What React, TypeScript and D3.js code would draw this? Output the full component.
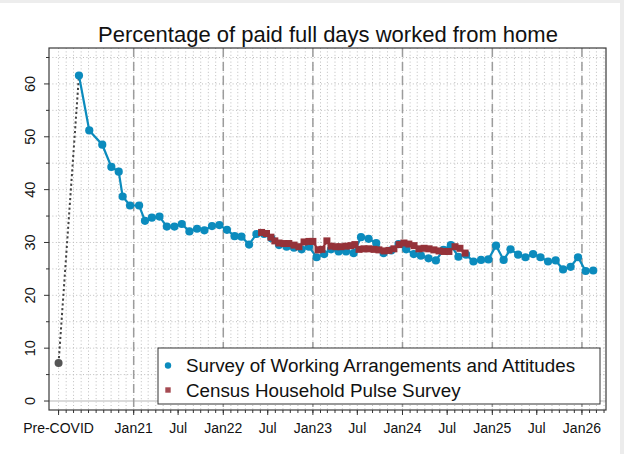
import React from "react";
import * as d3 from "d3";

const W = 624;
const H = 454;
const PLOT = { left: 49, right: 606, top: 48, bottom: 410 };

const title = "Percentage of paid full days worked from home";

const preCovidDate = "2020-03-01";
const preCovidValue = 7.2;

const swaaDates = [
  "2020-05-23", "2020-07-04", "2020-08-26", "2020-10-02", "2020-11-01", "2020-11-17", "2020-12-17", "2021-01-23",
  "2021-02-16", "2021-03-16", "2021-04-16", "2021-05-16", "2021-06-16", "2021-07-16", "2021-08-16", "2021-09-16", "2021-10-16", "2021-11-16", "2021-12-16",
  "2022-01-16", "2022-02-16", "2022-03-16", "2022-04-16", "2022-05-16", "2022-06-16", "2022-07-16", "2022-08-16", "2022-09-16", "2022-10-16", "2022-11-16", "2022-12-16",
  "2023-01-16", "2023-02-16", "2023-03-16", "2023-04-16", "2023-05-16", "2023-06-16", "2023-07-16", "2023-08-16", "2023-09-16", "2023-10-16", "2023-11-16", "2023-12-16",
  "2024-01-16", "2024-02-16", "2024-03-16", "2024-04-16", "2024-05-16", "2024-06-16", "2024-07-16", "2024-08-16", "2024-09-16", "2024-10-16", "2024-11-16", "2024-12-16",
  "2025-01-16", "2025-02-16", "2025-03-16", "2025-04-16", "2025-05-16", "2025-06-16", "2025-07-16", "2025-08-16", "2025-09-16", "2025-10-16", "2025-11-16", "2025-12-16",
  "2026-01-16", "2026-02-16",
];
const swaaValues = [
  61.6, 51.2, 48.5, 44.3, 43.4, 38.7, 37.0, 37.0,
  34.1, 34.7, 34.9, 33.0, 33.0, 33.5, 32.1, 32.6, 32.3, 33.1, 33.3,
  32.4, 31.2, 31.1, 29.6, 31.6, 31.6, 30.8, 29.5, 29.2, 29.0, 28.7, 29.2,
  27.2, 27.8, 28.7, 28.3, 28.3, 28.0, 31.0, 30.7, 29.9, 28.0, 28.5, 29.7,
  28.7, 27.8, 27.5, 27.0, 26.6, 28.6, 29.5, 27.3, 27.7, 26.4, 26.7, 26.8,
  29.4, 26.7, 28.7, 27.7, 27.2, 27.8, 27.2, 26.4, 26.6, 24.9, 25.4, 27.2,
  24.6, 24.7,
];

const pulseDates = [
  "2022-06-06", "2022-06-26", "2022-07-14", "2022-07-30", "2022-08-16", "2022-09-05", "2022-09-25", "2022-10-16", "2022-11-05", "2022-11-26", "2022-12-16",
  "2023-01-01", "2023-01-22", "2023-02-07", "2023-02-27", "2023-03-16", "2023-04-05", "2023-04-25", "2023-05-16", "2023-06-05", "2023-06-21",
  "2023-07-08", "2023-07-28", "2023-08-17", "2023-09-07", "2023-09-27", "2023-10-18", "2023-11-07", "2023-11-27", "2023-12-18",
  "2024-01-07", "2024-01-27", "2024-02-17", "2024-03-08", "2024-03-29", "2024-04-18", "2024-05-08", "2024-05-29", "2024-06-18",
  "2024-07-08", "2024-08-02", "2024-08-22", "2024-09-12",
];
const pulseValues = [
  31.9, 31.7, 31.0, 30.3, 29.9, 29.8, 29.8, 29.5, 29.2, 30.1, 30.2,
  30.2, 28.6, 28.7, 30.3, 29.3, 29.2, 29.2, 29.3, 29.4, 29.6,
  28.7, 28.8, 28.8, 28.7, 28.6, 28.4, 28.5, 28.8, 29.6,
  29.9, 29.7, 29.4, 28.8, 28.9, 28.8, 28.6, 28.4, 28.3,
  28.3, 29.2, 28.9, 28.0,
];

const xTickDates = [
  "2020-03-01", "2021-01-01", "2021-07-01", "2022-01-01", "2022-07-01", "2023-01-01",
  "2023-07-01", "2024-01-01", "2024-07-01", "2025-01-01", "2025-07-01", "2026-01-01",
];
const xTickLabels = ["Pre-COVID", "Jan21", "Jul", "Jan22", "Jul", "Jan23", "Jul", "Jan24", "Jul", "Jan25", "Jul", "Jan26"];
const yearLineDates = ["2021-01-01", "2022-01-01", "2023-01-01", "2024-01-01", "2025-01-01", "2026-01-01"];
const yTickValues = [0, 10, 20, 30, 40, 50, 60];
const yMinorValues = [5, 15, 25, 35, 45, 55, 65];
const legendLabels = ["Survey of Working Arrangements and Attitudes", "Census Household Pulse Survey"];

const BLUE = "#0b8bbd";
const RED = "#953239";
const FONT = "'Liberation Sans', Arial, Helvetica, sans-serif";

const parse = d3.timeParse("%Y-%m-%d");

export default function App() {
  const x = d3
    .scaleTime()
    .domain([parse("2020-01-22")!, parse("2026-04-09")!])
    .range([PLOT.left, PLOT.right]);
  const y = d3.scaleLinear().domain([-1.7, 66.8]).range([PLOT.bottom, PLOT.top]);

  const swaa = swaaDates.map((d, i) => ({ date: parse(d)!, value: swaaValues[i] }));
  const pulse = pulseDates.map((d, i) => ({ date: parse(d)!, value: pulseValues[i] }));
  const pre = { date: parse(preCovidDate)!, value: preCovidValue };

  const line = d3
    .line<{ date: Date; value: number }>()
    .x((d) => x(d.date))
    .y((d) => y(d.value));

  const months = d3.timeMonth.range(parse("2020-03-01")!, parse("2026-04-02")!);
  const gridY = [...yTickValues, ...yMinorValues].filter((v) => v !== 0);
  const sq = 7;

  return (
    <svg
      width={W}
      height={H}
      viewBox={`0 0 ${W} ${H}`}
      style={{ position: "absolute", left: 0, top: 0, background: "#fff" }}
      fontFamily={FONT}
    >
      <rect x={0} y={0} width={W} height={H} fill="#fff" />
      <rect x={0} y={0} width={W} height={3} fill="#ededed" />
      <rect x={620} y={0} width={4} height={H} fill="#ececec" />

      {/* title */}
      <text x={328} y={42} textAnchor="middle" fontSize={22} fill="#111">
        {title}
      </text>

      {/* gridlines */}
      <g>
        {months.map((m, i) => (
          <line
            key={"vg" + i}
            x1={x(m)}
            x2={x(m)}
            y1={PLOT.top}
            y2={PLOT.bottom}
            stroke="#bdbdbd"
            strokeWidth={1}
            strokeDasharray="1 2.4"
          />
        ))}
        {gridY.map((v) => (
          <line
            key={"hg" + v}
            x1={PLOT.left}
            x2={PLOT.right}
            y1={y(v)}
            y2={y(v)}
            stroke="#bdbdbd"
            strokeWidth={1}
            strokeDasharray="1 2.4"
          />
        ))}
        <line x1={PLOT.left} x2={PLOT.right} y1={y(0)} y2={y(0)} stroke="#cfcfcf" strokeWidth={1.5} />
        {yearLineDates.map((d) => (
          <line
            key={"yl" + d}
            x1={x(parse(d)!)}
            x2={x(parse(d)!)}
            y1={PLOT.top}
            y2={PLOT.bottom}
            stroke="#9c9c9c"
            strokeWidth={1.5}
            strokeDasharray="9 5"
          />
        ))}
      </g>

      {/* pre-covid connector */}
      <path
        d={line([pre, swaa[0]]) || ""}
        fill="none"
        stroke="#444"
        strokeWidth={2}
        strokeDasharray="2.2 2.6"
      />
      <circle cx={x(pre.date)} cy={y(pre.value)} r={4} fill="#555" />

      {/* SWAA */}
      <path d={line(swaa) || ""} fill="none" stroke={BLUE} strokeWidth={2.2} />
      {swaa.map((d, i) => (
        <circle key={"s" + i} cx={x(d.date)} cy={y(d.value)} r={4.1} fill={BLUE} />
      ))}

      {/* Pulse */}
      <path d={line(pulse) || ""} fill="none" stroke={RED} strokeWidth={2.2} />
      {pulse.map((d, i) => (
        <rect key={"p" + i} x={x(d.date) - sq / 2} y={y(d.value) - sq / 2} width={sq} height={sq} fill={RED} />
      ))}

      {/* frame */}
      <rect
        x={PLOT.left}
        y={PLOT.top}
        width={PLOT.right - PLOT.left}
        height={PLOT.bottom - PLOT.top}
        fill="none"
        stroke="#3a3a3a"
        strokeWidth={1.2}
      />

      {/* x ticks */}
      <g>
        {months.map((m, i) => (
          <line key={"xm" + i} x1={x(m)} x2={x(m)} y1={PLOT.bottom} y2={PLOT.bottom + 3} stroke="#333" strokeWidth={1} />
        ))}
        {xTickDates.map((d, i) => {
          const px = x(parse(d)!);
          return (
            <g key={"xt" + i}>
              <line x1={px} x2={px} y1={PLOT.bottom} y2={PLOT.bottom + 5} stroke="#333" strokeWidth={1} />
              <text x={px} y={432.5} textAnchor="middle" fontSize={14} fill="#111">
                {xTickLabels[i]}
              </text>
            </g>
          );
        })}
      </g>

      {/* y ticks */}
      <g>
        {yMinorValues.map((v) => (
          <line key={"ym" + v} x1={PLOT.left - 3} x2={PLOT.left} y1={y(v)} y2={y(v)} stroke="#333" strokeWidth={1} />
        ))}
        {yTickValues.map((v) => (
          <g key={"yt" + v}>
            <line x1={PLOT.left - 5} x2={PLOT.left} y1={y(v)} y2={y(v)} stroke="#333" strokeWidth={1} />
            <text
              transform={`translate(35,${y(v)}) rotate(-90)`}
              textAnchor="middle"
              fontSize={14.5}
              fill="#111"
            >
              {v}
            </text>
          </g>
        ))}
      </g>

      {/* legend */}
      <g>
        <rect x={158} y={348} width={442} height={56} fill="#fff" stroke="#333" strokeWidth={1} />
        <circle cx={168} cy={365.5} r={3.2} fill={BLUE} />
        <text x={186} y={372} fontSize={18.8} fill="#111">
          {legendLabels[0]}
        </text>
        <rect x={165.3} y={387.3} width={5.4} height={5.4} fill="#a54a52" />
        <text x={186} y={396.5} fontSize={18.8} fill="#111">
          {legendLabels[1]}
        </text>
      </g>
    </svg>
  );
}
